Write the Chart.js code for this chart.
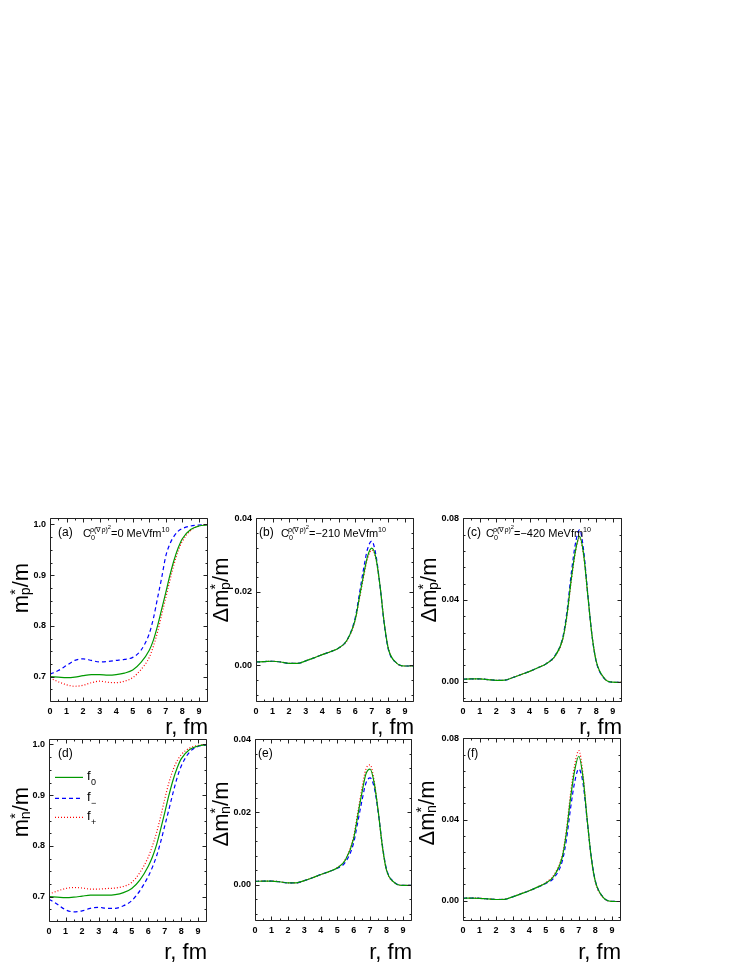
<!DOCTYPE html>
<html>
<head>
<meta charset="utf-8">
<script src="https://cdn.jsdelivr.net/npm/chart.js@4.4.0/dist/chart.umd.min.js"></script>
<style>
    body { margin: 0; background: #fff; }
    #page { position: relative; width: 747px; height: 967px; font-family: "Liberation Sans", Arial, sans-serif; color: #000; }
    #page canvas { position: absolute; }
    .lbl { position: absolute; white-space: nowrap; line-height: 1; }
    .ytitle { font-size: 22px; transform: translate(-50%, -50%) rotate(-90deg); }
    .ytitle sub { margin-left: -6px; vertical-align: -0.15em; }
    .xtitle { font-size: 22px; transform: translate(-100%, -50%); }
    .tag { font-size: 12px; }
    .note { font-size: 11px; }
    sup, sub { font-size: 65%; line-height: 0; }
    sup sup { font-size: 80%; }
</style>
</head>
<body>
<div id="page">
    <canvas id="pa"></canvas>
    <canvas id="pb"></canvas>
    <canvas id="pc"></canvas>
    <canvas id="pd"></canvas>
    <canvas id="pe"></canvas>
    <canvas id="pf"></canvas>

    <div class="lbl ytitle" style="left:21px;top:588px">m<sup>*</sup><sub>p</sub>/m</div>
    <div class="lbl ytitle" style="left:221px;top:590px">&Delta;m<sup>*</sup><sub>p</sub>/m</div>
    <div class="lbl ytitle" style="left:429px;top:590px">&Delta;m<sup>*</sup><sub>p</sub>/m</div>
    <div class="lbl ytitle" style="left:21px;top:812px">m<sup>*</sup><sub>n</sub>/m</div>
    <div class="lbl ytitle" style="left:221px;top:814px">&Delta;m<sup>*</sup><sub>n</sub>/m</div>
    <div class="lbl ytitle" style="left:427px;top:813px">&Delta;m<sup>*</sup><sub>n</sub>/m</div>

    <div class="lbl xtitle" style="left:208px;top:727px">r, fm</div>
    <div class="lbl xtitle" style="left:414px;top:727px">r, fm</div>
    <div class="lbl xtitle" style="left:622px;top:727px">r, fm</div>
    <div class="lbl xtitle" style="left:207px;top:952px">r, fm</div>
    <div class="lbl xtitle" style="left:412px;top:952px">r, fm</div>
    <div class="lbl xtitle" style="left:621px;top:952px">r, fm</div>

    <div class="lbl tag" style="left:58px;top:526px">(a)</div>
    <div class="lbl tag" style="left:259px;top:526px">(b)</div>
    <div class="lbl tag" style="left:467px;top:526px">(c)</div>
    <div class="lbl tag" style="left:58px;top:747px">(d)</div>
    <div class="lbl tag" style="left:258px;top:747px">(e)</div>
    <div class="lbl tag" style="left:467px;top:747px">(f)</div>

    <div class="lbl note" style="left:83px;top:527px">C<sub>0</sub><sup style="margin-left:-5px">&rho;(&nabla;&rho;)<sup>2</sup></sup>=0 MeVfm<sup>10</sup></div>
    <div class="lbl note" style="left:281px;top:527px">C<sub>0</sub><sup style="margin-left:-5px">&rho;(&nabla;&rho;)<sup>2</sup></sup>=&minus;210 MeVfm<sup>10</sup></div>
    <div class="lbl note" style="left:486px;top:527px">C<sub>0</sub><sup style="margin-left:-5px">&rho;(&nabla;&rho;)<sup>2</sup></sup>=&minus;420 MeVfm<sup>10</sup></div>
</div>

<script>
    // radius grid, fm
    const r = [0, 0.5, 1, 1.5, 2, 2.5, 3, 3.5, 4, 4.5, 5, 5.5, 6, 6.25, 6.5, 6.75, 7, 7.25, 7.5, 7.75, 8, 8.5, 9, 9.55]

    // (a) proton effective mass, C = 0
    const mpF0 = [0.700, 0.699, 0.698, 0.699, 0.702, 0.704, 0.704, 0.703, 0.704, 0.707, 0.713, 0.728, 0.752, 0.772, 0.800, 0.833, 0.866, 0.900, 0.930, 0.954, 0.972, 0.990, 0.997, 0.999]
    const mpFm = [0.705, 0.712, 0.722, 0.732, 0.735, 0.732, 0.729, 0.730, 0.732, 0.734, 0.738, 0.752, 0.785, 0.815, 0.855, 0.895, 0.938, 0.962, 0.977, 0.987, 0.992, 0.997, 0.999, 1.000]
    const mpFp = [0.697, 0.690, 0.684, 0.681, 0.683, 0.688, 0.691, 0.689, 0.688, 0.691, 0.698, 0.714, 0.738, 0.760, 0.788, 0.822, 0.856, 0.890, 0.922, 0.948, 0.967, 0.988, 0.997, 1.000]

    // (b) proton, C = -210
    const dmp210F0 = [0.0009, 0.0010, 0.0011, 0.0009, 0.0005, 0.0005, 0.0012, 0.0020, 0.0029, 0.0037, 0.0047, 0.0068, 0.0125, 0.0185, 0.0245, 0.0298, 0.0319, 0.0292, 0.0215, 0.0115, 0.0045, 0.0006, -0.0002, -0.0002]
    const dmp210Fm = [0.0009, 0.0010, 0.0011, 0.0009, 0.0005, 0.0005, 0.0012, 0.0020, 0.0029, 0.0037, 0.0047, 0.0069, 0.0130, 0.0195, 0.0262, 0.0318, 0.0338, 0.0300, 0.0215, 0.0112, 0.0043, 0.0006, -0.0002, -0.0002]
    const dmp210Fp = [0.0009, 0.0010, 0.0011, 0.0009, 0.0005, 0.0005, 0.0012, 0.0020, 0.0029, 0.0037, 0.0047, 0.0067, 0.0123, 0.0181, 0.0240, 0.0292, 0.0314, 0.0290, 0.0215, 0.0117, 0.0046, 0.0006, -0.0002, -0.0002]

    // (c) proton, C = -420
    const dmp420F0 = [0.0012, 0.0013, 0.0013, 0.0010, 0.0006, 0.0007, 0.0020, 0.0035, 0.0050, 0.0068, 0.0088, 0.0122, 0.0212, 0.0330, 0.0500, 0.0640, 0.0712, 0.0620, 0.0420, 0.0225, 0.0100, 0.0015, -0.0003, -0.0004]
    const dmp420Fm = [0.0012, 0.0013, 0.0013, 0.0010, 0.0006, 0.0007, 0.0020, 0.0035, 0.0050, 0.0068, 0.0088, 0.0125, 0.0220, 0.0348, 0.0528, 0.0675, 0.0745, 0.0640, 0.0425, 0.0225, 0.0098, 0.0014, -0.0003, -0.0004]
    const dmp420Fp = [0.0012, 0.0013, 0.0013, 0.0010, 0.0006, 0.0007, 0.0020, 0.0035, 0.0050, 0.0068, 0.0088, 0.0121, 0.0208, 0.0325, 0.0492, 0.0632, 0.0705, 0.0615, 0.0420, 0.0226, 0.0101, 0.0015, -0.0003, -0.0004]

    // (d) neutron effective mass, C = 0
    const mnF0 = [0.700, 0.699, 0.698, 0.699, 0.701, 0.703, 0.703, 0.703, 0.704, 0.708, 0.716, 0.733, 0.760, 0.778, 0.802, 0.833, 0.866, 0.900, 0.930, 0.954, 0.972, 0.990, 0.997, 0.999]
    const mnFm = [0.695, 0.685, 0.674, 0.670, 0.672, 0.677, 0.679, 0.677, 0.677, 0.682, 0.692, 0.712, 0.740, 0.758, 0.780, 0.808, 0.840, 0.872, 0.905, 0.935, 0.958, 0.985, 0.996, 0.999]
    const mnFp = [0.705, 0.711, 0.716, 0.718, 0.717, 0.715, 0.715, 0.716, 0.717, 0.720, 0.728, 0.748, 0.778, 0.800, 0.826, 0.858, 0.893, 0.925, 0.950, 0.968, 0.980, 0.993, 0.998, 1.000]

    // (e) neutron, C = -210
    const dmn210F0 = [0.0009, 0.0010, 0.0010, 0.0008, 0.0005, 0.0005, 0.0011, 0.0019, 0.0028, 0.0036, 0.0046, 0.0068, 0.0127, 0.0190, 0.0252, 0.0305, 0.0318, 0.0280, 0.0200, 0.0105, 0.0040, 0.0005, -0.0002, -0.0002]
    const dmn210Fm = [0.0009, 0.0010, 0.0010, 0.0008, 0.0005, 0.0005, 0.0011, 0.0019, 0.0028, 0.0036, 0.0045, 0.0062, 0.0115, 0.0172, 0.0230, 0.0280, 0.0294, 0.0268, 0.0198, 0.0108, 0.0043, 0.0006, -0.0002, -0.0002]
    const dmn210Fp = [0.0009, 0.0010, 0.0010, 0.0008, 0.0005, 0.0005, 0.0011, 0.0019, 0.0028, 0.0036, 0.0047, 0.0070, 0.0133, 0.0199, 0.0265, 0.0318, 0.0330, 0.0285, 0.0200, 0.0103, 0.0039, 0.0005, -0.0002, -0.0002]

    // (f) neutron, C = -420
    const dmn420F0 = [0.0012, 0.0013, 0.0012, 0.0009, 0.0006, 0.0007, 0.0019, 0.0034, 0.0049, 0.0067, 0.0087, 0.0122, 0.0215, 0.0335, 0.0505, 0.0642, 0.0712, 0.0610, 0.0405, 0.0215, 0.0095, 0.0014, -0.0003, -0.0004]
    const dmn420Fm = [0.0012, 0.0013, 0.0012, 0.0009, 0.0006, 0.0007, 0.0019, 0.0034, 0.0049, 0.0066, 0.0085, 0.0113, 0.0195, 0.0300, 0.0455, 0.0585, 0.0650, 0.0580, 0.0400, 0.0218, 0.0098, 0.0015, -0.0003, -0.0004]
    const dmn420Fp = [0.0012, 0.0013, 0.0012, 0.0009, 0.0006, 0.0007, 0.0019, 0.0034, 0.0049, 0.0068, 0.0089, 0.0128, 0.0225, 0.0350, 0.0528, 0.0668, 0.0740, 0.0625, 0.0405, 0.0210, 0.0092, 0.0013, -0.0003, -0.0004]

    // ticks
    const xMajor = [0, 1, 2, 3, 4, 5, 6, 7, 8, 9]
    const xMinor = [0.5, 1.5, 2.5, 3.5, 4.5, 5.5, 6.5, 7.5, 8.5, 9.5]
    const mMajor = [0.7, 0.8, 0.9, 1.0]
    const mMinor = [0.675, 0.725, 0.75, 0.775, 0.825, 0.85, 0.875, 0.925, 0.95, 0.975]
    const d210Major = [0, 0.02, 0.04]
    const d210Minor = [-0.008, -0.004, 0.004, 0.008, 0.012, 0.016, 0.024, 0.028, 0.032, 0.036]
    const d420Major = [0, 0.04, 0.08]
    const d420Minor = [-0.008, 0.008, 0.016, 0.024, 0.032, 0.048, 0.056, 0.064, 0.072]

    const tickFont = { family: 'Liberation Sans', size: 9, weight: 'bold' }

    // frame with inward ticks on all four sides, plus the legend of panel (d)
    const frameTicks = {
        id: 'frameTicks',
        afterDraw(chart, args, opts) {
            const ctx = chart.ctx
            const a = chart.chartArea
            const x = chart.scales.x, y = chart.scales.y
            ctx.save()
            ctx.strokeStyle = '#222'
            ctx.lineWidth = 1
            ctx.beginPath()
            const L = Math.round(a.left) + 0.5, R = Math.round(a.right) - 0.5
            const T = Math.round(a.top) + 0.5, B = Math.round(a.bottom) - 0.5
            ctx.rect(L, T, R - L, B - T)
            const xt = (list, len) => list.forEach(v => {
                const p = Math.round(x.getPixelForValue(v)) + 0.5
                ctx.moveTo(p, B); ctx.lineTo(p, B - len)
                ctx.moveTo(p, T); ctx.lineTo(p, T + len)
            })
            const yt = (list, len) => list.forEach(v => {
                const p = Math.round(y.getPixelForValue(v)) + 0.5
                ctx.moveTo(L, p); ctx.lineTo(L + len, p)
                ctx.moveTo(R, p); ctx.lineTo(R - len, p)
            })
            xt(xMajor, 4); xt(xMinor, 2)
            yt(opts.yMajor, 4); yt(opts.yMinor, 2)
            ctx.stroke()

            if (opts.legend) {
                const names = ['0', '\u2212', '+']
                const rows = [38, 59, 78]
                chart.data.datasets.forEach((ds, i) => {
                    const yy = a.top + rows[i]
                    ctx.beginPath()
                    ctx.strokeStyle = ds.borderColor
                    ctx.lineWidth = ds.borderWidth
                    ctx.setLineDash(ds.borderDash || [])
                    ctx.moveTo(a.left + 6, yy)
                    ctx.lineTo(a.left + 34, yy)
                    ctx.stroke()
                    ctx.setLineDash([])
                    ctx.fillStyle = '#000'
                    ctx.textBaseline = 'alphabetic'
                    ctx.font = '13px "Liberation Sans"'
                    ctx.fillText('f', a.left + 38, yy + 3)
                    ctx.font = '9px "Liberation Sans"'
                    ctx.fillText(names[i], a.left + 42, yy + 8)
                })
            }
            ctx.restore()
        }
    }

    function pts(vals) {
        return vals.map((v, i) => ({ x: r[i], y: v }))
    }

    function panel(id, box, yMin, yMax, yMajor, yMinor, digits, f0, fm, fp, legend) {
        const cv = document.getElementById(id)
        cv.width = box.R - box.L + 40
        cv.height = box.B - box.T + 28
        cv.style.left = (box.L - 34) + 'px'
        cv.style.top = (box.T - 8) + 'px'
        new Chart(cv, {
            type: 'line',
            data: {
                datasets: [
                    { label: 'f0', data: pts(f0), borderColor: '#009900', borderWidth: 1.2 },
                    { label: 'f-', data: pts(fm), borderColor: '#0000ff', borderWidth: 1.2, borderDash: [4, 3] },
                    { label: 'f+', data: pts(fp), borderColor: '#ff0000', borderWidth: 1.2, borderDash: [1, 2] }
                ]
            },
            options: {
                responsive: false,
                animation: false,
                layout: { padding: { top: 8, right: 6, left: 0, bottom: 0 } },
                elements: {
                    point: { radius: 0 },
                    line: { cubicInterpolationMode: 'monotone', fill: false }
                },
                plugins: {
                    legend: { display: false },
                    tooltip: { enabled: false },
                    frameTicks: { yMajor: yMajor, yMinor: yMinor, legend: legend }
                },
                scales: {
                    x: {
                        type: 'linear', min: 0, max: 9.55,
                        grid: { display: false, drawTicks: false },
                        border: { display: false },
                        afterBuildTicks: s => { s.ticks = xMajor.map(v => ({ value: v })) },
                        afterFit: s => { s.height = 20 },
                        ticks: { font: tickFont, color: '#000', padding: 4, maxRotation: 0, autoSkip: false, callback: v => String(v) }
                    },
                    y: {
                        type: 'linear', min: yMin, max: yMax,
                        grid: { display: false, drawTicks: false },
                        border: { display: false },
                        afterBuildTicks: s => { s.ticks = yMajor.map(v => ({ value: v })) },
                        afterFit: s => { s.width = 34 },
                        ticks: { font: tickFont, color: '#000', padding: 4, autoSkip: false, callback: v => v.toFixed(digits) }
                    }
                }
            },
            plugins: [frameTicks]
        })
    }

    panel('pa', { L: 50, T: 517, R: 208, B: 702 }, 0.65, 1.012, mMajor, mMinor, 1, mpF0, mpFm, mpFp, false)
    panel('pb', { L: 256, T: 517, R: 414, B: 702 }, -0.01, 0.04, d210Major, d210Minor, 2, dmp210F0, dmp210Fm, dmp210Fp, false)
    panel('pc', { L: 463, T: 517, R: 622, B: 702 }, -0.01, 0.08, d420Major, d420Minor, 2, dmp420F0, dmp420Fm, dmp420Fp, false)
    panel('pd', { L: 49, T: 738, R: 207, B: 922 }, 0.65, 1.01, mMajor, mMinor, 1, mnF0, mnFm, mnFp, true)
    panel('pe', { L: 255, T: 738, R: 412, B: 921 }, -0.01, 0.04, d210Major, d210Minor, 2, dmn210F0, dmn210Fm, dmn210Fp, false)
    panel('pf', { L: 463, T: 737, R: 621, B: 921 }, -0.01, 0.08, d420Major, d420Minor, 2, dmn420F0, dmn420Fm, dmn420Fp, false)
</script>
</body>
</html>
